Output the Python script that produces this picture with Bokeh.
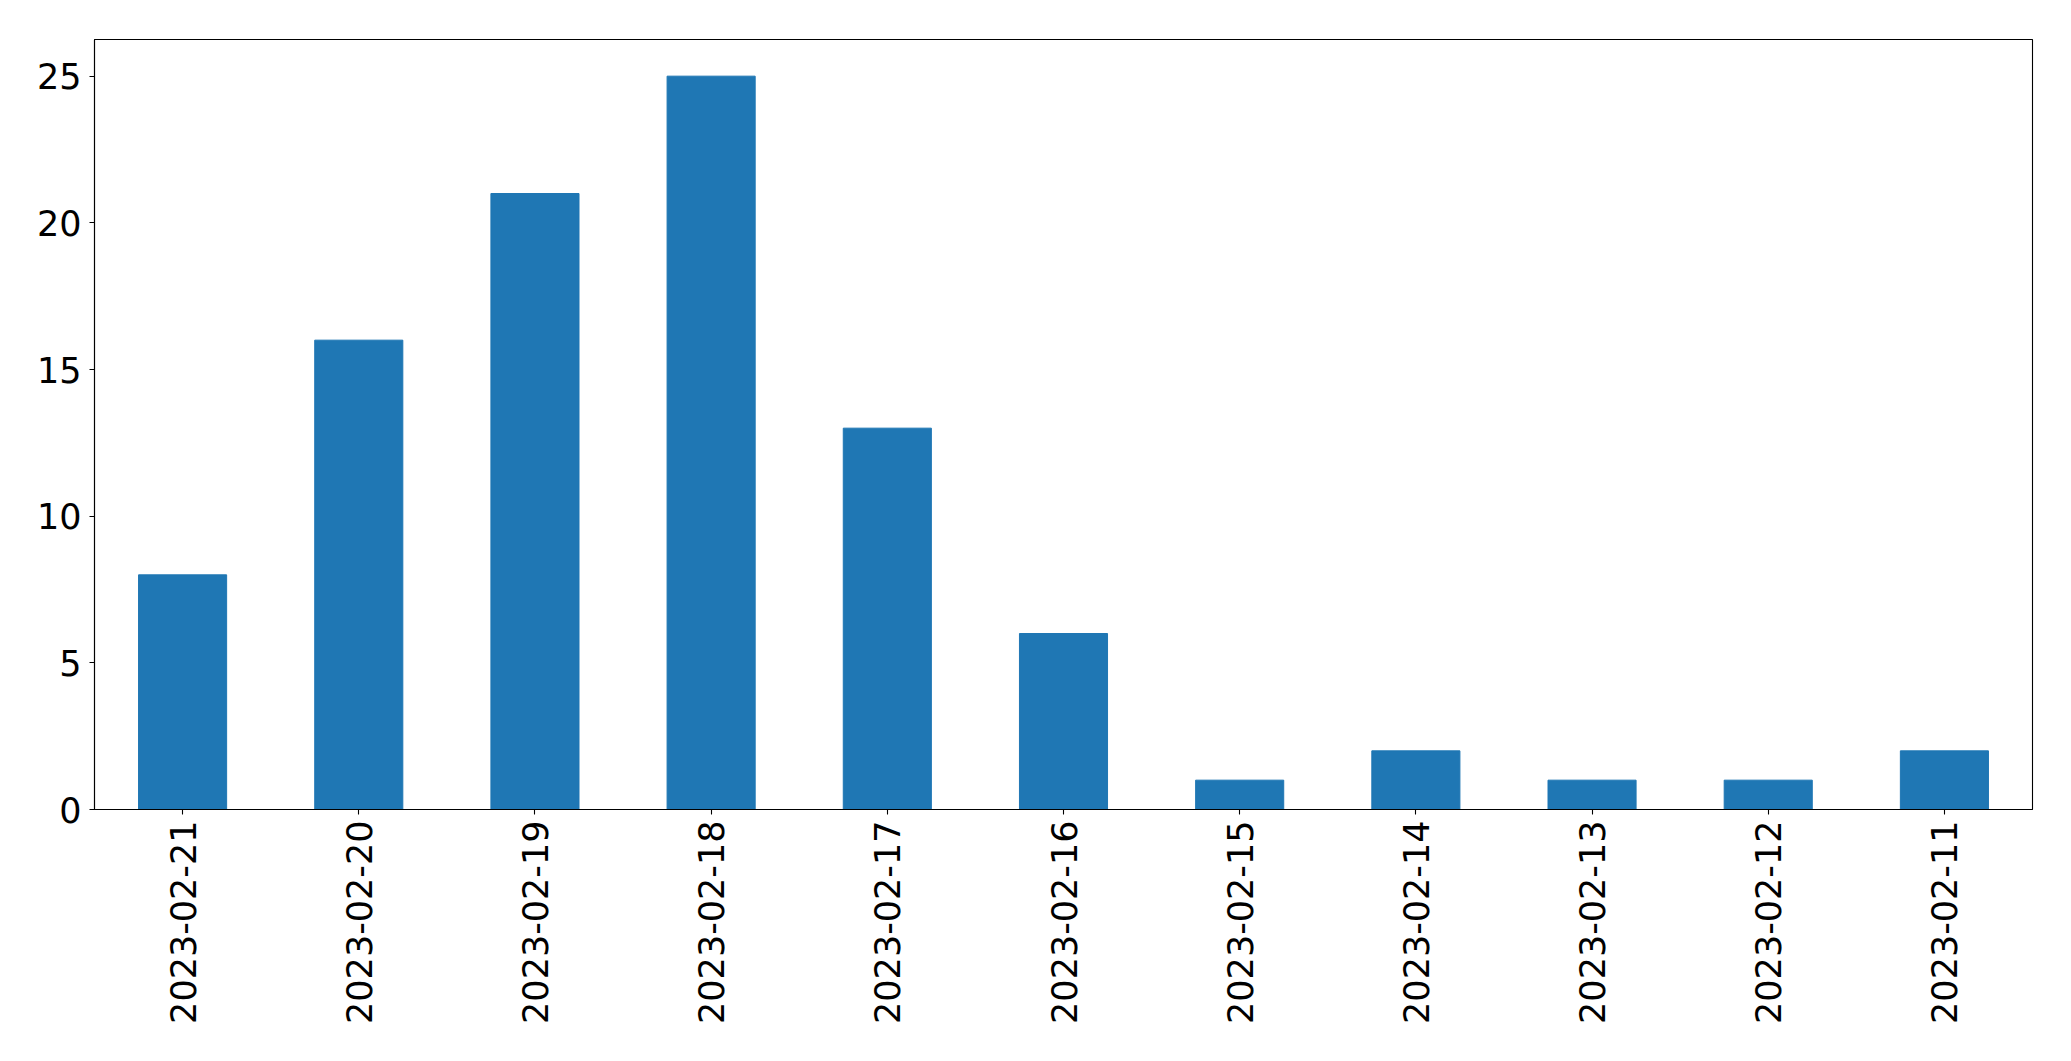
from bokeh.plotting import figure
from bokeh.models import Range1d, FixedTicker, ColumnDataSource
from bokeh.embed import file_html
from bokeh.resources import INLINE
import math

dates = ["2023-02-21", "2023-02-20", "2023-02-19", "2023-02-18", "2023-02-17",
         "2023-02-16", "2023-02-15", "2023-02-14", "2023-02-13", "2023-02-12",
         "2023-02-11"]
counts = [8, 16, 21, 25, 13, 6, 1, 2, 1, 1, 2]
y_ticks = [0, 5, 10, 15, 20, 25]

src = ColumnDataSource(dict(x=dates, top=counts))

p = figure(x_range=dates, y_range=Range1d(0, 26.25),
           width=2063, height=1053, output_backend="svg", toolbar_location=None,
           min_border_left=94, min_border_right=31, min_border_top=39, min_border_bottom=244)
p.x_range.range_padding = 0
p.vbar(x="x", top="top", bottom=0, width=0.5, source=src, color="#1f77b4")

p.xgrid.visible = False
p.ygrid.visible = False
p.outline_line_color = "black"
p.outline_line_width = 1.1
p.outline_line_alpha = 1

p.yaxis.ticker = FixedTicker(ticks=y_ticks)
for ax in (p.xaxis[0], p.yaxis[0]):
    ax.axis_line_color = "black"
    ax.axis_line_width = 1.1
    ax.major_tick_line_color = "black"
    ax.major_tick_line_width = 1.1
    ax.major_tick_out = 5
    ax.major_tick_in = 0
    ax.minor_tick_line_color = None
    ax.major_label_text_font = "DejaVu Sans"
    ax.major_label_text_font_size = "35px"
    ax.major_label_text_color = "black"
p.yaxis.major_label_standoff = 8
p.xaxis.major_label_standoff = 6
p.xaxis.major_label_orientation = math.pi / 2

open("out.html", "w").write(file_html(p, INLINE))
